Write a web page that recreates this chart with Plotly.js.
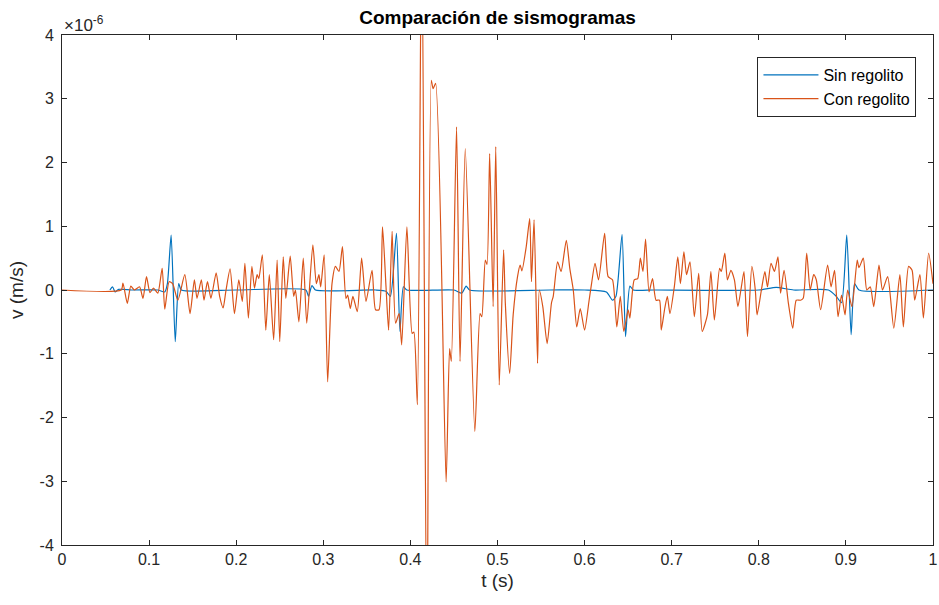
<!DOCTYPE html>
<html>
<head>
<meta charset="utf-8">
<script src="https://cdn.plot.ly/plotly-3.0.1.min.js"></script>
<style>html,body{margin:0;padding:0;background:#fff;}#chart{width:939px;height:605px;}</style>
</head>
<body>
<div id="chart"></div>
<script>
// values in units of 1e-6 m/s (axis shows the ×10^-6 exponent, as in the original)
const tSin = [0.055,0.058,0.061,0.065,0.08,0.11,0.118,0.121,0.1253,0.130,0.134,0.137,0.2,0.28,0.283,0.287,0.291,0.36,0.372,0.377,0.384,0.388,0.392,0.396,0.45,0.459,0.464,0.468,0.56,0.6,0.625,0.632,0.636,0.643,0.647,0.652,0.656,0.68,0.8,0.82,0.84,0.88,0.889,0.895,0.901,0.906,0.910,0.915,1.0];
const vSin = [0,0.05,-0.03,0.01,0,0,-0.03,0.1,0.86,-0.81,0.1,0,0,0,-0.1,0.07,0,0,-0.02,-0.1,0.89,-0.65,0.05,0,0,-0.05,0.06,0,0,0,-0.03,-0.16,-0.1,0.87,-0.73,0.06,0,0,0,0.04,0,0,-0.1,-0.2,0.86,-0.7,0.1,0,0];

const tCon = [0,0.068,0.070,0.075,0.079,0.083,0.089,0.093,0.097,0.101,0.105,0.110,0.115,0.118,0.123,0.127,0.133,0.141,0.147,0.152,0.155,0.160,0.163,0.167,0.171,0.177,0.181,0.185,0.188,0.193,0.198,0.203,0.207,0.210,0.214,0.218,0.221,0.224,0.226,0.230,0.234,0.238,0.243,0.247,0.250,0.254,0.257,0.262,0.266,0.268,0.272,0.277,0.281,0.288,0.292,0.295,0.297,0.301,0.305,0.310,0.314,0.318,0.322,0.326,0.328,0.331,0.334,0.339,0.344,0.349,0.356,0.360,0.364,0.368,0.372,0.375,0.379,0.383,0.387,0.390,0.396,0.402,0.404,0.408,0.413,0.419,0.424,0.426,0.429,0.441,0.445,0.447,0.453,0.457,0.463,0.474,0.480,0.482,0.486,0.488,0.491,0.495,0.498,0.502,0.507,0.509,0.514,0.518,0.523,0.526,0.528,0.533,0.537,0.539,0.542,0.546,0.548,0.552,0.557,0.562,0.564,0.569,0.573,0.579,0.583,0.587,0.591,0.595,0.600,0.605,0.608,0.612,0.616,0.623,0.627,0.632,0.637,0.641,0.645,0.650,0.652,0.657,0.661,0.664,0.667,0.670,0.674,0.678,0.682,0.686,0.688,0.692,0.695,0.698,0.703,0.707,0.710,0.714,0.717,0.721,0.726,0.731,0.735,0.741,0.745,0.749,0.755,0.757,0.761,0.764,0.768,0.772,0.776,0.780,0.783,0.787,0.792,0.796,0.798,0.803,0.807,0.810,0.814,0.818,0.822,0.825,0.829,0.834,0.839,0.843,0.848,0.851,0.855,0.859,0.863,0.866,0.871,0.879,0.883,0.887,0.891,0.895,0.899,0.902,0.907,0.913,0.915,0.920,0.924,0.928,0.932,0.938,0.942,0.948,0.955,0.962,0.966,0.972,0.976,0.979,0.985,0.989,0.995,1.0];
const vCon = [0,0,0.11,-0.21,0.06,0.0,0.05,-0.13,0.21,-0.04,0.03,-0.05,0.34,-0.30,0.13,0.10,-0.16,0.24,-0.37,0.16,-0.13,0.16,-0.16,0.13,-0.13,0.27,-0.10,-0.28,-0.03,0.33,-0.37,0.16,-0.18,0.42,-0.44,0.37,0.03,0.24,0.18,0.55,-0.63,0.24,-0.78,0.47,-0.81,0.52,-0.13,0.53,-0.10,0.0,-0.50,0.50,-0.52,0.71,0.10,0.24,0.05,0.55,-1.44,0.10,0.37,0.29,0.68,-0.13,-0.08,-0.29,-0.10,-0.34,0.50,-0.18,0.31,-0.31,-0.31,0.99,0.05,-0.63,0.92,-0.52,-0.37,-0.86,0.99,-0.68,-0.66,-1.80,6.0,-6.0,3.29,3.16,3.24,-3.01,-0.92,-1.12,2.56,-1.12,2.22,-2.22,-0.37,-0.42,0.47,0.40,2.14,-0.26,2.25,-1.49,0.63,-0.21,-1.31,-0.39,0.21,0.39,0.30,0.68,1.12,0.13,1.10,-1.15,0.0,-0.26,-0.84,-0.20,-0.10,0.44,0.29,0.78,0.34,0.0,-0.58,-0.29,-0.63,-0.18,0.10,0.42,0.16,0.89,0.21,0.16,-0.58,-0.10,-0.65,-0.31,-0.44,0.16,0.18,0.50,0.29,0.80,-0.03,0.18,-0.16,-0.16,-0.63,-0.29,-0.10,-0.37,0.05,0.52,0.10,0.60,0.24,0.44,-0.42,0.26,-0.65,-0.39,0.29,-0.47,0.34,0.29,0.58,0.16,0.31,0.16,-0.26,0.05,0.29,-0.73,0.37,0.0,-0.39,0.0,0.29,0.05,0.42,0.29,0.52,-0.05,0.31,-0.21,-0.60,-0.16,-0.16,-0.13,0.58,0.0,0.24,0.16,-0.31,0.39,0.05,0.31,-0.42,-0.08,-0.39,0.0,-0.26,0.47,0.35,0.50,0.0,0.05,-0.26,0.39,0.0,0.21,-0.60,0.24,-0.58,0.37,0.31,-0.16,0.24,-0.44,0.58,0.10];

const xTicks = [0,0.1,0.2,0.3,0.4,0.5,0.6,0.7,0.8,0.9,1];
const xTickText = ['0','0.1','0.2','0.3','0.4','0.5','0.6','0.7','0.8','0.9','1'];
const yTicks = [-4,-3,-2,-1,0,1,2,3,4];
const yTickText = ['-4','-3','-2','-1','0','1','2','3','4'];

const FONT = 'Liberation Sans, Arial, Helvetica, sans-serif';
const AX = '#262626';

const traces = [
  {x: tSin, y: vSin, name: 'Sin regolito', type: 'scatter', mode: 'lines',
   line: {color: '#0072BD', width: 1.2, shape: 'spline', smoothing: 0.6}},
  {x: tCon, y: vCon, name: 'Con regolito', type: 'scatter', mode: 'lines',
   line: {color: '#D95319', width: 1.2, shape: 'spline', smoothing: 0.6}}
];

const axisCommon = {
  showline: true, linecolor: AX, linewidth: 1, mirror: 'ticks',
  ticks: 'inside', ticklen: 5, tickcolor: AX, tickwidth: 1,
  showgrid: false, zeroline: false, ticklabeloverflow: 'allow',
  tickfont: {family: FONT, size: 16, color: AX}
};

const layout = {
  width: 939, height: 605,
  margin: {l: 62, r: 6, t: 35, b: 60},
  paper_bgcolor: '#fff', plot_bgcolor: '#fff',
  showlegend: true,
  title: {text: '<b>Comparación de sismogramas</b>', font: {family: FONT, size: 19, color: '#000'},
          xref: 'paper', x: 0.5, xanchor: 'center', y: 0.972, yanchor: 'middle'},
  xaxis: Object.assign({}, axisCommon, {
    range: [0, 1.00001], tickvals: xTicks, ticktext: xTickText,
    title: {text: 't (s)', font: {family: FONT, size: 19, color: AX}, standoff: 6}
  }),
  yaxis: Object.assign({}, axisCommon, {
    range: [-4.00001, 4.00001], tickvals: yTicks, ticktext: yTickText,
    ticklabelstandoff: 4,
    title: {text: 'v (m/s)', font: {family: FONT, size: 19, color: AX}, standoff: 10}
  }),
  legend: {x: 0.981, y: 0.957, xanchor: 'right', yanchor: 'top',
           bgcolor: '#fff', bordercolor: AX, borderwidth: 1,
           font: {family: FONT, size: 16, color: '#000'},
           tracegroupgap: 0, itemwidth: 55},
  annotations: [{
    xref: 'paper', yref: 'paper', x: 0, y: 1, xanchor: 'left', yanchor: 'bottom',
    text: '×10<sup>-6</sup>', showarrow: false, yshift: -2,
    font: {family: FONT, size: 17, color: AX}
  }]
};

Plotly.newPlot('chart', traces, layout, {displayModeBar: false, staticPlot: true});
</script>
</body>
</html>
